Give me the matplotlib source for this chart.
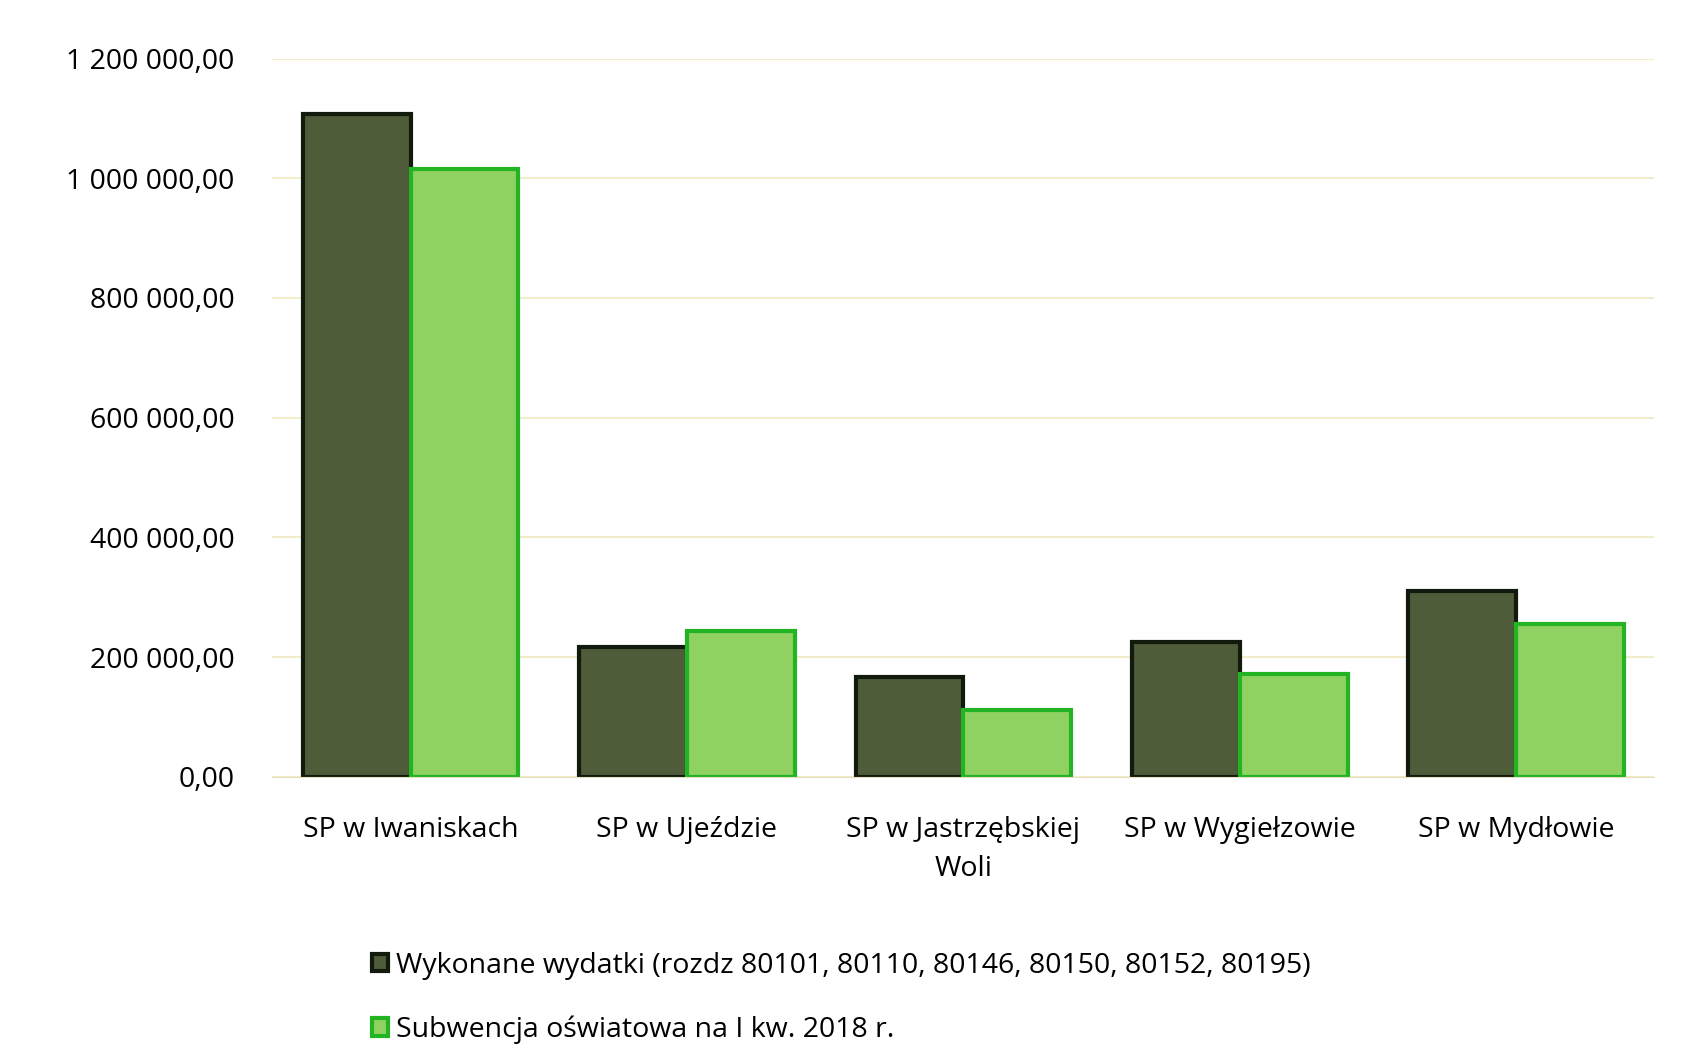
import matplotlib.pyplot as plt
import numpy as np

schools = ["SP w Iwaniskach", "SP w Ujeździe", "SP w Jastrzębskiej\nWoli",
           "SP w Wygiełzowie", "SP w Mydłowie"]
wydatki = [1108000, 216000, 167000, 225000, 310000]
subwencja = [1015000, 243000, 111000, 172000, 256000]
labels = ["Wykonane wydatki (rozdz 80101, 80110, 80146, 80150, 80152, 80195)",
          "Subwencja oświatowa na I kw. 2018 r."]
yticks = [0, 200000, 400000, 600000, 800000, 1000000, 1200000]

plt.rcParams['font.family'] = ['Open Sans', 'DejaVu Sans']

fig = plt.figure(figsize=(17.02, 10.64), dpi=100)
ax = fig.add_axes([0.16, 0.27, 0.812, 0.675])

x = np.arange(len(schools))
w = 0.39
b1 = ax.bar(x - w/2, wydatki, w, color='#4e5c3a', edgecolor='#111a0c',
            linewidth=3, label=labels[0])
b2 = ax.bar(x + w/2, subwencja, w, color='#8fd262', edgecolor='#22b422',
            linewidth=3, label=labels[1])

ax.set_xlim(-0.5, len(schools) - 0.5)
ax.set_ylim(0, 1200000)
ax.set_yticks(yticks)
ax.set_yticklabels([f"{v:,.2f}".replace(",", " ").replace(".", ",") for v in yticks],
                   fontsize=20.5)
ax.set_xticks(x)
ax.set_xticklabels(schools, fontsize=20.5, linespacing=1.55)
ax.tick_params(axis='y', length=0, pad=27)
ax.tick_params(axis='x', length=0, pad=28)
ax.yaxis.grid(True, color='#f3ecc8', linewidth=1.5)
ax.set_axisbelow(True)
for s in ['top', 'right', 'left']:
    ax.spines[s].set_visible(False)
ax.spines['bottom'].set_color('#e6dfc0')

fig.legend(handles=[b1, b2], labels=labels, loc='upper left',
           bbox_to_anchor=(0.212, 0.116), frameon=False, fontsize=20.5,
           handlelength=0.55, handleheight=0.55, handletextpad=0.3,
           labelspacing=1.25, borderaxespad=0)

fig.savefig("out.png", dpi=100)
